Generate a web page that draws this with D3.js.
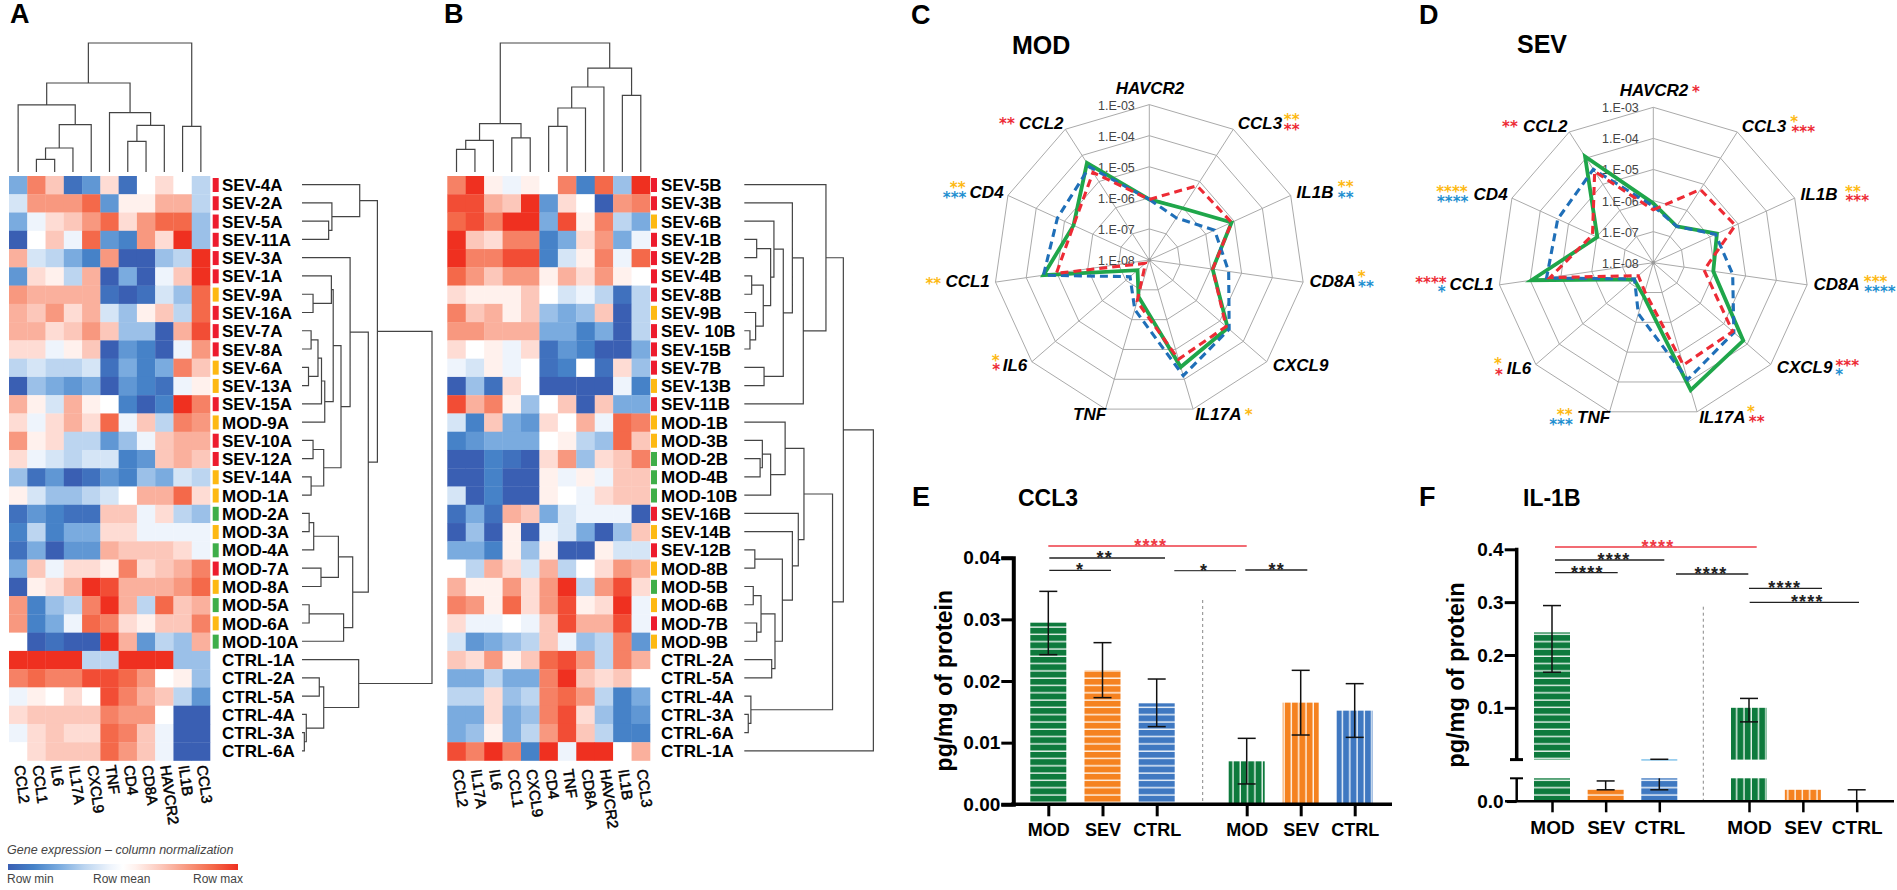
<!DOCTYPE html>
<html>
<head>
<meta charset="utf-8">
<script src="https://cdn.jsdelivr.net/npm/d3@7"></script>
<style>
  html, body { margin: 0; padding: 0; background: #fff; }
  svg { display: block; }
  text { font-family: "Liberation Sans", Arial, sans-serif; fill: #000; }
</style>
</head>
<body>
<div id="chart"></div>
<script>
// ---- heatmap data (-9 = row min, 0 = row mean, 9 = row max) ----
var colsA = ["CCL2","CCL1","IL6","IL17A","CXCL9","TNF","CD4","CD8A","HAVCR2","IL1B","CCL3"];
var rowsA = ["SEV-4A","SEV-2A","SEV-5A","SEV-11A","SEV-3A","SEV-1A","SEV-9A","SEV-16A","SEV-7A","SEV-8A","SEV-6A","SEV-13A","SEV-15A","MOD-9A","SEV-10A","SEV-12A","SEV-14A","MOD-1A","MOD-2A","MOD-3A","MOD-4A","MOD-7A","MOD-8A","MOD-5A","MOD-6A","MOD-10A","CTRL-1A","CTRL-2A","CTRL-5A","CTRL-4A","CTRL-3A","CTRL-6A"];
var groupA = ["r","r","r","r","r","r","y","r","r","r","y","y","r","y","r","r","y","y","g","y","g","r","y","g","y","g","","","","","",""];
var cellsA = [
  [-5,6,3,-8,-6,2,-8,0,2,0,-3],
  [-2,5,5,5,7,-6,1,1,4,4,-3],
  [-5,-1,2,3,5,7,2,5,7,7,-4],
  [-9,0,3,-1,7,-6,-7,5,2,9,-4],
  [4,-2,-3,-5,-7,5,-9,-9,-4,-3,9],
  [-6,2,1,-3,4,-9,-5,-9,-1,3,9],
  [5,4,4,4,4,-8,-9,-8,-2,-4,7],
  [4,3,5,2,4,-2,-4,1,3,-3,7],
  [4,4,2,3,5,3,-4,-4,-9,4,8],
  [2,2,-1,1,3,-9,-6,-7,-9,-1,5],
  [-3,-2,-3,-3,-2,-8,-5,-7,-5,6,3],
  [-9,-4,-5,-6,-5,-9,-6,-7,-8,-1,1],
  [4,1,-2,4,1,0,-7,-9,-7,9,6],
  [2,-1,2,4,2,7,-1,3,-3,6,5],
  [5,1,2,-3,-3,-6,-4,-1,3,4,4],
  [2,-1,-2,-3,-2,-2,-7,-6,3,4,3],
  [-4,-8,-6,-9,-8,-6,-7,-4,-5,-2,-3],
  [1,-2,-4,-4,-3,-2,0,4,4,7,2],
  [-8,-6,-7,-8,-8,3,3,-1,2,-3,-4],
  [-7,-3,-7,-5,-5,2,2,-1,-1,-1,-1],
  [-8,-5,-9,-6,-6,4,3,3,3,2,-1],
  [-5,3,-1,2,2,1,6,2,3,4,6],
  [-9,1,2,4,9,8,4,4,4,5,7],
  [5,-7,-4,-3,6,9,4,-3,7,3,4],
  [5,-7,-5,-1,7,6,2,1,3,3,6],
  [0,-9,-8,-9,-9,9,4,-6,-3,-4,4],
  [9,9,9,9,-3,-3,9,9,9,-4,-4],
  [6,7,6,6,8,8,7,5,0,1,-4],
  [-1,1,0,2,0,8,6,4,3,-3,-6],
  [2,3,3,3,3,6,5,5,0,-9,-9],
  [-1,2,3,2,2,7,6,3,-1,-9,-9],
  [0,2,3,3,3,7,5,3,-1,-9,-9]
];
var colsB = ["CCL2","IL17A","IL6","CCL1","CXCL9","CD4","TNF","CD8A","HAVCR2","IL1B","CCL3"];
var rowsB = ["SEV-5B","SEV-3B","SEV-6B","SEV-1B","SEV-2B","SEV-4B","SEV-8B","SEV-9B","SEV- 10B","SEV-15B","SEV-7B","SEV-13B","SEV-11B","MOD-1B","MOD-3B","MOD-2B","MOD-4B","MOD-10B","SEV-16B","SEV-14B","SEV-12B","MOD-8B","MOD-5B","MOD-6B","MOD-7B","MOD-9B","CTRL-2A","CTRL-5A","CTRL-4A","CTRL-3A","CTRL-6A","CTRL-1A"];
var groupB = ["r","r","y","r","r","r","r","y","r","r","r","y","r","y","y","g","g","g","r","y","r","y","g","y","r","y","","","","","",""];
var cellsB = [
  [6,9,1,-1,1,0,6,-7,7,-4,9],
  [8,8,4,3,9,-6,2,0,-9,5,6],
  [7,8,6,9,9,-5,8,1,6,-3,-5],
  [9,3,2,6,6,-7,-5,2,5,-5,-1],
  [9,6,6,8,8,-7,-2,1,6,-1,7],
  [7,5,3,5,5,1,4,2,5,1,0],
  [2,1,1,1,3,0,-2,-1,-3,-8,-3],
  [6,3,4,1,3,-4,-5,-4,3,-9,-3],
  [5,5,4,4,4,-5,-5,-7,-5,-9,-3],
  [2,0,1,-1,2,-8,-6,-7,-9,-9,-5],
  [-1,-2,1,-1,0,-8,-7,0,-8,2,-4],
  [-9,-4,-8,2,0,-9,-9,-9,-9,-1,-7],
  [8,4,6,1,-4,0,3,-9,3,-5,-5],
  [-2,-7,3,-5,-6,2,0,4,-1,7,6],
  [-7,-6,-5,-5,-5,0,1,-3,-4,7,3],
  [-9,-9,-7,-8,-9,2,5,-4,2,3,6],
  [-9,-9,-7,-9,-9,1,-1,1,-1,3,3],
  [-2,-9,-7,-9,-9,1,0,-1,2,3,3],
  [-8,-5,-8,4,3,-5,-2,-1,-1,-1,-9],
  [-9,-4,-9,1,-9,-1,-2,-5,-9,-4,3],
  [-5,-5,-7,1,-4,1,-9,-9,1,-2,-2],
  [0,-3,4,2,-2,4,-3,0,2,5,4],
  [4,1,1,5,2,5,9,-3,5,8,2],
  [6,5,1,7,2,5,8,1,2,9,-1],
  [2,-1,-1,0,-1,3,8,4,4,8,-1],
  [-2,-6,-5,-4,-3,3,-1,-4,-3,6,-6],
  [3,2,5,1,3,7,8,5,-3,6,4],
  [-5,-5,-3,-5,-5,6,9,3,2,3,0],
  [-3,-3,2,-4,-3,6,7,5,-3,-7,-5],
  [-5,-5,2,-5,-4,6,8,2,-4,-7,-6],
  [-5,-4,1,-5,-3,5,8,3,-3,-7,-7],
  [8,6,9,6,-7,9,-1,9,9,0,4]
];

// ---- dendrograms: [distance, child, child], leaves are names ----
var rowTreeA = [1,
  [.58,
    [.444, "SEV-4A", [.23, "SEV-2A", [.205, "SEV-5A", "SEV-11A"]]],
    [.51,
      [.37, "SEV-3A",
        [.30,
          [.24,
            [.226, "SEV-1A", [.085, "SEV-9A", "SEV-16A"]],
            [.175, [.15, [.123, [.07, "SEV-7A", "SEV-8A"], [.05, "SEV-6A", "SEV-13A"]], "SEV-15A"], "MOD-9A"]],
          [.167, [.085, "SEV-10A", "SEV-12A"], [.07, "SEV-14A", "MOD-1A"]]]],
      [.39,
        [.28, [.09, [.055, "MOD-2A", "MOD-3A"], "MOD-4A"], [.146, "MOD-7A", "MOD-8A"]],
        [.32, [.055, "MOD-5A", "MOD-6A"], "MOD-10A"]]]],
  [.436, "CTRL-1A",
    [.167, [.133, "CTRL-2A", "CTRL-5A"], [.033, "CTRL-4A", [.018, "CTRL-3A", "CTRL-6A"]]]]
];
var rowTreeB = [.98,
  [.752,
    [.62, "SEV-5B",
      [.448,
        [.365, "SEV-3B",
          [.296,
            [.225, "SEV-6B",
              [.2,
                [.094, "SEV-1B", "SEV-2B"],
                [.144, [.056, "SEV-4B", "SEV-8B"], [.086, "SEV-9B", [.043, "SEV- 10B", "SEV-15B"]]]]],
            [.15, "SEV-7B", "SEV-13B"]]],
        "SEV-11B"]],
    [.67,
      [.453,
        [.31, "MOD-1B", [.2, [.137, "MOD-3B", [.12, "MOD-2B", "MOD-4B"]], "MOD-10B"]],
        [.41, "SEV-16B",
          [.365, "SEV-14B",
            [.289,
              [.08, "SEV-12B", "MOD-8B"],
              [.233, [.127, [.068, "MOD-5B", "MOD-6B"], [.094, "MOD-7B", "MOD-9B"]], [.208, "CTRL-2A", "CTRL-5A"]]]]]],
      [.05, "CTRL-4A", [.03, "CTRL-3A", "CTRL-6A"]]]],
  "CTRL-1A"
];
var colTreeA = [1,
  [.69,
    [.52, "CCL2", [.367, [.186, [.098, "CCL1", "IL6"], "IL17A"], "CXCL9"]],
    [.46, "TNF", [.362, [.238, "CD4", "CD8A"], "HAVCR2"]]],
  [.354, "IL1B", "CCL3"]
];
var colTreeB = [1,
  [.375, [.245, [.176, "CCL2", "IL17A"], "IL6"], [.264, "CCL1", "CXCL9"]],
  [.806, [.659, [.496, [.354, "CD4", "TNF"], "CD8A"], "HAVCR2"], [.594, "IL1B", "CCL3"]]
];

// ---- radar data: log10 of the relative expression ----
var radarGenes = ["HAVCR2","CCL3","IL1B","CD8A","CXCL9","IL17A","TNF","IL6","CCL1","CD4","CCL2"];
var radarTicks = ["1.E-08","1.E-07","1.E-06","1.E-05","1.E-04","1.E-03"];
var modGreen = [-6.05,-6.02,-5.09,-5.94,-4.66,-4.41,-6.77,-7.50,-4.56,-5.32,-4.29];
var modRed   = [-6.05,-5.16,-5.09,-5.94,-4.73,-4.67,-6.61,-7.84,-4.98,-5.32,-4.65];
var modBlue  = [-6.05,-6.39,-5.69,-5.42,-4.60,-4.12,-6.34,-7.18,-4.56,-4.75,-4.44];
var sevGreen = [-6.09,-6.61,-5.75,-6.05,-4.17,-3.73,-6.89,-7.18,-4.04,-6.02,-3.94];
var sevRed   = [-6.30,-5.20,-5.10,-6.35,-4.62,-4.57,-7.03,-7.36,-4.64,-5.85,-4.51];
var sevBlue  = [-6.18,-6.61,-5.80,-5.42,-4.57,-4.08,-6.29,-7.20,-4.53,-4.62,-4.43];

// ---- bar data ----
var barGroups = ["MOD","SEV","CTRL"];
var ccl3Left     = [.02946,.02173,.01638];
var ccl3LeftHi   = [.03454,.02622,.02032];
var ccl3LeftLo   = [.02427,.0173,.0126];
var ccl3Right    = [.00697,.01649,.01519];
var ccl3RightHi  = [.0107,.02173,.01957];
var ccl3RightLo  = [.0033,.01124,.01086];
var il1bLeft     = [.2427,.001,.0023];
var il1bLeftHi   = [.2935,.00177,.0026];
var il1bLeftLo   = [.1673,.001,.001];
var il1bRight    = [.1,.001,0];
var il1bRightHi  = [.1178,.001,.001];
var il1bRightLo  = [.0734,.001,0];

var W = 1897, H = 890;
var svg = d3.select("#chart").append("svg").attr("width", W).attr("height", H);
svg.append("rect").attr("width", W).attr("height", H).attr("fill", "#fff");
var defs = svg.append("defs");

var groupColour = { r: "#ed1c2e", y: "#fdb913", g: "#3fae49" };
var heatStops = [-9,-7,-5,-3,-1,0,1,3,5,7,9];
var heatRange = ["#3a5fb3","#4682c8","#7aabdf","#bcd5f0","#eef4fc","#ffffff","#fff1ed","#fcc7ba","#f8987f","#f4694a","#ef3020"];
var heatColour = d3.scaleLinear().domain(heatStops).range(heatRange);

function label(x, y, txt, size, opts) {
  opts = opts || {};
  var t = svg.append("text").attr("x", x).attr("y", y).text(txt)
    .style("font-size", size + "px")
    .style("font-weight", opts.weight || "bold")
    .style("text-anchor", opts.anchor || "start");
  if (opts.italic) t.style("font-style", "italic");
  if (opts.fill) t.style("fill", opts.fill);
  if (opts.rotate != null) t.attr("transform", "rotate(" + opts.rotate + "," + x + "," + y + ")");
  return t;
}

// panel letters and titles
label(10, 23, "A", 27);
label(444, 23, "B", 27);
label(911, 24, "C", 27);
label(1419, 24, "D", 27);
label(912, 506, "E", 27);
label(1419, 506, "F", 27);
label(1012, 54, "MOD", 25);
label(1517, 53, "SEV", 25);
label(1018, 506, "CCL3", 23);
label(1523, 506, "IL-1B", 23);

// ---- heatmaps with their dendrograms ----
function treeLines(tree, pos, distance) {
  // pos(name) gives the place of a leaf along the ordered side, distance(h) across it
  var root = d3.hierarchy(tree, function(d) { return Array.isArray(d) ? d.slice(1) : null; });
  var path = d3.path();
  root.eachAfter(function(n) {
    if (!n.children) {
      n.p = pos(n.data);
      n.h = 0;
    } else {
      n.p = (n.children[0].p + n.children[1].p) / 2;
      n.h = n.data[0];
      var a = n.children[0], b = n.children[1];
      if (distance.horizontal) {
        path.moveTo(distance(a.h), a.p); path.lineTo(distance(n.h), a.p);
        path.lineTo(distance(n.h), b.p); path.lineTo(distance(b.h), b.p);
      } else {
        path.moveTo(a.p, distance(a.h)); path.lineTo(a.p, distance(n.h));
        path.lineTo(b.p, distance(n.h)); path.lineTo(b.p, distance(b.h));
      }
    }
  });
  svg.append("path").attr("d", path.toString()).attr("fill", "none")
    .attr("stroke", "#444").attr("stroke-width", 1.2);
}

function heatmap(cfg) {
  var x = d3.scaleBand().domain(cfg.cols).range([cfg.x0, cfg.x1]);
  var y = d3.scaleBand().domain(cfg.rows).range([176, 760.5]);
  var g = svg.append("g");
  cfg.cells.forEach(function(row, i) {
    g.selectAll(null).data(row).enter().append("rect")
      .attr("x", function(d, j) { return x(cfg.cols[j]); })
      .attr("y", y(cfg.rows[i]))
      .attr("width", x.bandwidth() + .3)
      .attr("height", y.bandwidth() + .3)
      .attr("fill", function(d) { return heatColour(d); });
  });
  // severity chips
  g.selectAll(null).data(cfg.rows).enter().append("rect")
    .attr("x", cfg.chipX).attr("width", 6)
    .attr("y", function(d) { return y(d) + 2; })
    .attr("height", 14)
    .attr("fill", function(d, i) { return groupColour[cfg.groups[i]] || "none"; });
  cfg.rows.forEach(function(r) {
    label(cfg.labelX, y(r) + y.bandwidth() / 2 + 6, r, 17);
  });
  cfg.cols.forEach(function(c) {
    label(x(c) + x.bandwidth() / 2 - 4, cfg.colLabelY, c, 15, { rotate: 82, weight: "normal" })
      .style("stroke", "#000").style("stroke-width", .5);
  });
  var across = d3.scaleLinear().domain([0, 1]).range([cfg.rowTreeX0, cfg.rowTreeX1]);
  across.horizontal = true;
  treeLines(cfg.rowTree, function(n) { return y(n) + y.bandwidth() / 2 - .5; }, across);
  var up = d3.scaleLinear().domain([0, 1]).range([172, 43]);
  treeLines(cfg.colTree, function(n) { return x(n) + x.bandwidth() / 2; }, up);
}

heatmap({ cols: colsA, rows: rowsA, groups: groupA, cells: cellsA, x0: 9, x1: 210, chipX: 212.7, labelX: 222,
  colLabelY: 766, rowTree: rowTreeA, colTree: colTreeA, rowTreeX0: 302, rowTreeX1: 432 });
heatmap({ cols: colsB, rows: rowsB, groups: groupB, cells: cellsB, x0: 447.3, x1: 650, chipX: 651, labelX: 661,
  colLabelY: 770, rowTree: rowTreeB, colTree: colTreeB, rowTreeX0: 744.3, rowTreeX1: 876 });

// gradient legend
var grad = defs.append("linearGradient").attr("id", "rowScale");
heatStops.forEach(function(s, i) {
  grad.append("stop").attr("offset", ((s + 9) / 18 * 100) + "%").attr("stop-color", heatRange[i]);
});
svg.append("rect").attr("x", 8).attr("y", 864).attr("width", 230).attr("height", 6).attr("fill", "url(#rowScale)");
label(7, 854, "Gene expression \u2013 column normalization", 12.5, { italic: true, weight: "normal", fill: "#444" });
label(7, 883, "Row min", 12, { weight: "normal", fill: "#444" });
label(93, 883, "Row mean", 12, { weight: "normal", fill: "#444" });
label(193, 883, "Row max", 12, { weight: "normal", fill: "#444" });

// ---- radar panels ----
var radarColour = { orange: "#fdb913", red: "#ed2b35", blue: "#1f8fd0" };
// label offsets from the centre, same on both panels
var radarLabelPos = [[.7,-166.3],[110.7,-131],[165.7,-62.3],[183.3,27.3],[151.3,110.7],[69,160],[-59.7,160],[-134.3,111],[-181.7,27.3],[-162.7,-62.3],[-108,-131]];

function stars(cx, cy, dx, dy, n, colour) {
  label(cx + dx / 3, cy + dy / 3 + 6.5, "*".repeat(n), 15, { anchor: "middle", fill: radarColour[colour] })
    .style("font-family", "DejaVu Sans");
}

function radar(cx, cy, green, red, blue, starList) {
  var r = d3.scaleLinear().domain([-8, -3]).range([0, 155.4]);
  var angle = d3.scalePoint().domain(radarGenes).range([0, 2 * Math.PI * 10 / 11]);
  var line = d3.lineRadial().curve(d3.curveLinearClosed)
    .angle(function(d, i) { return angle(radarGenes[i]); })
    .radius(function(d) { return r(d); });
  var g = svg.append("g").attr("transform", "translate(" + cx + "," + cy + ")");
  d3.range(-7, -2).forEach(function(level) {
    g.append("path").attr("d", line(radarGenes.map(function() { return level; })))
      .attr("fill", "none").attr("stroke", "#aaa").attr("stroke-width", 1);
  });
  radarGenes.forEach(function(gene) {
    var a = angle(gene) - Math.PI / 2;
    g.append("line").attr("x2", r(-3) * Math.cos(a)).attr("y2", r(-3) * Math.sin(a))
      .attr("stroke", "#aaa").attr("stroke-width", 1);
  });
  g.append("circle").attr("r", 2).attr("fill", "#999");
  radarTicks.forEach(function(t, i) {
    g.append("text").attr("x", -14.5).attr("y", -r(-8 + i) + 5).text(t)
      .style("font-size", "12.5px").style("text-anchor", "end").style("fill", "#444");
  });
  g.append("path").attr("d", line(green)).attr("fill", "none")
    .attr("stroke", "#1fa64a").attr("stroke-width", 3.8);
  g.append("path").attr("d", line(blue)).attr("fill", "none")
    .attr("stroke", "#1f6fb8").attr("stroke-width", 3.1).attr("stroke-dasharray", "8,5");
  g.append("path").attr("d", line(red)).attr("fill", "none")
    .attr("stroke", "#ed2b35").attr("stroke-width", 3.1).attr("stroke-dasharray", "8,5");
  radarGenes.forEach(function(gene, i) {
    label(cx + radarLabelPos[i][0], cy + radarLabelPos[i][1], gene, 17, { italic: true, anchor: "middle" });
  });
  starList.forEach(function(s) { stars(cx, cy, s[0], s[1], s[2], s[3]); });
}

radar(1149.3, 260, modGreen, modRed, modBlue, [
  [427,-426,2,"orange"],[427,-395,2,"red"],[589,-223,2,"orange"],[589,-192,2,"blue"],
  [637,45,1,"orange"],[650,77,2,"blue"],[298,460,1,"orange"],[-461,298,1,"orange"],[-459,325,1,"red"],
  [-648,66,2,"orange"],[-575,-220,2,"orange"],[-584,-190,3,"blue"],[-427,-414,2,"red"]
]);
radar(1653.3, 262.7, sevGreen, sevRed, sevBlue, [
  [128,-516,1,"red"],[423,-426,1,"orange"],[450,-398,3,"red"],[599,-218,2,"orange"],[612,-190,3,"red"],
  [667,54,3,"orange"],[680,82,4,"blue"],[582,304,3,"red"],[558,332,1,"blue"],[293,444,1,"orange"],[310,474,2,"red"],
  [-266,452,2,"orange"],[-277,482,3,"blue"],[-466,298,1,"orange"],[-463,332,1,"red"],
  [-667,55,4,"red"],[-635,84,1,"blue"],[-604,-218,4,"orange"],[-602,-188,4,"blue"],[-430,-412,2,"red"]
]);

// ---- bar panels ----
var barColour = { MOD: "#0e7a3d", SEV: "#f58220", CTRL: "#3f78c1" };
function stripes(id, colour, vertical) {
  var p = defs.append("pattern").attr("id", id).attr("patternUnits", "userSpaceOnUse")
    .attr("width", 7.3).attr("height", 7.3);
  p.append("rect").attr("width", 7.3).attr("height", 7.3).attr("fill", colour);
  if (vertical) p.append("rect").attr("x", 5.9).attr("width", 1.4).attr("height", 7.3).attr("fill", "#fff").attr("opacity", .9);
  else p.append("rect").attr("y", 5.9).attr("height", 1.4).attr("width", 7.3).attr("fill", "#fff").attr("opacity", .9);
}
barGroups.forEach(function(c) {
  stripes("h" + c, barColour[c], false);
  stripes("v" + c, barColour[c], true);
});

function sigBar(x1, x2, y, starX, n, colour) {
  svg.append("line").attr("x1", x1).attr("x2", x2).attr("y1", y).attr("y2", y)
    .attr("stroke", colour).attr("stroke-width", 1.3);
  label(starX, y + 6, "*".repeat(n), 18, { anchor: "middle", fill: colour === "#ee3a45" ? colour : "#222" })
    .style("letter-spacing", "1.2px");
}

function errorBars(g, x, hi, lo, yPieces, yAt) {
  barGroups.forEach(function(c, i) {
    if (hi[i] === lo[i]) return;
    yPieces(lo[i], hi[i]).forEach(function(seg) {
      g.append("line").attr("x1", x(c)).attr("x2", x(c)).attr("y1", seg[0]).attr("y2", seg[1])
        .attr("stroke", "#111").attr("stroke-width", 1.5);
    });
    [lo[i], hi[i]].forEach(function(v) {
      if (v > 0) g.append("line").attr("x1", x(c) - 9).attr("x2", x(c) + 9).attr("y1", yAt(v)).attr("y2", yAt(v))
        .attr("stroke", "#111").attr("stroke-width", 1.5);
    });
  });
}

// CCL3
(function() {
  var y = d3.scaleLinear().domain([0, .04]).range([804.3, 557.7]);
  var xL = d3.scalePoint().domain(barGroups).range([1048.3, 1156.7]);
  var xR = d3.scalePoint().domain(barGroups).range([1246.7, 1354.7]);
  var g = svg.append("g");
  function bars(x, vals, hi, lo, kind) {
    g.selectAll(null).data(vals).enter().append("rect")
      .attr("x", function(d, i) { return x(barGroups[i]) - 18; })
      .attr("width", 36)
      .attr("y", function(d) { return y(d); })
      .attr("height", function(d) { return y(0) - y(d); })
      .attr("fill", function(d, i) { return "url(#" + kind + barGroups[i] + ")"; });
    errorBars(g, x, hi, lo, function(a, b) { return [[y(a), y(b)]]; }, y);
  }
  bars(xL, ccl3Left, ccl3LeftHi, ccl3LeftLo, "h");
  bars(xR, ccl3Right, ccl3RightHi, ccl3RightLo, "v");
  svg.append("line").attr("x1", 1202.7).attr("x2", 1202.7).attr("y1", 600).attr("y2", 804)
    .attr("stroke", "#888").attr("stroke-dasharray", "3,3");

  var yAxis = d3.axisLeft(y).tickValues([0, .01, .02, .03, .04]).tickFormat(d3.format(".2f")).tickSize(12).tickPadding(1);
  var ya = svg.append("g").attr("transform", "translate(1013.3,0)").call(yAxis);
  ya.select(".domain").attr("stroke", "#000").attr("stroke-width", 4);
  ya.selectAll(".tick line").attr("stroke", "#000").attr("stroke-width", 3);
  ya.selectAll("text").style("font-size", "19px").style("font-weight", "bold");
  [[xL], [xR]].forEach(function(a) {
    var xa = svg.append("g").attr("transform", "translate(0,804.3)").call(d3.axisBottom(a[0]).tickSize(12).tickPadding(7));
    xa.select(".domain").remove();
    xa.selectAll(".tick line").attr("stroke", "#000").attr("stroke-width", 3);
    xa.selectAll("text").style("font-size", "18px").style("font-weight", "bold");
  });
  svg.append("line").attr("x1", 1011).attr("x2", 1392).attr("y1", 804.3).attr("y2", 804.3)
    .attr("stroke", "#000").attr("stroke-width", 3.5);
  label(951.7, 680.7, "pg/mg of protein", 23, { rotate: -90, anchor: "middle" });

  sigBar(1048.3, 1246.7, 546, 1150.7, 4, "#ee3a45");
  sigBar(1049.3, 1165, 558, 1104.7, 2, "#222");
  sigBar(1049.3, 1111, 570.3, 1080, 1, "#222");
  sigBar(1174.3, 1236, 570.7, 1204, 1, "#444");
  sigBar(1245.3, 1307.3, 570, 1276.7, 2, "#222");
})();

// IL-1B, broken axis
(function() {
  var breakAt = .002;
  var yHigh = d3.scaleLinear().domain([breakAt, .4]).range([759.6, 549.3]);
  var yLow = d3.scaleLinear().domain([0, breakAt]).range([801.3, 778.3]);
  var xL = d3.scalePoint().domain(barGroups).range([1552, 1659.3]);
  var xR = d3.scalePoint().domain(barGroups).range([1749, 1856.7]);
  function yAt(v) { return v >= breakAt ? yHigh(v) : yLow(v); }
  function pieces(a, b) {
    var out = [];
    if (a < breakAt) out.push([yLow(a), yLow(Math.min(b, breakAt))]);
    if (b > breakAt) out.push([yHigh(Math.max(a, breakAt)), yHigh(b)]);
    return out;
  }
  var g = svg.append("g");
  function bars(x, vals, hi, lo, kind) {
    vals.forEach(function(v, i) {
      var c = barGroups[i];
      if (v <= 0) return;
      var fill = "url(#" + kind + c + ")";
      g.append("rect").attr("x", x(c) - 18).attr("width", 36)
        .attr("y", yLow(Math.min(v, breakAt))).attr("height", yLow(0) - yLow(Math.min(v, breakAt))).attr("fill", fill);
      if (v > breakAt) g.append("rect").attr("x", x(c) - 18).attr("width", 36)
        .attr("y", yHigh(v)).attr("height", Math.max(yHigh(breakAt) - yHigh(v), 1)).attr("fill", c === "CTRL" ? "#4aa8e0" : fill);
    });
    errorBars(g, x, hi, lo, pieces, yAt);
  }
  bars(xL, il1bLeft, il1bLeftHi, il1bLeftLo, "h");
  bars(xR, il1bRight, il1bRightHi, il1bRightLo, "v");
  svg.append("line").attr("x1", 1703.3).attr("x2", 1703.3).attr("y1", 606.7).attr("y2", 801)
    .attr("stroke", "#888").attr("stroke-dasharray", "3,3");

  var ya = svg.append("g").attr("transform", "translate(1516.7,0)")
    .call(d3.axisLeft(yHigh).tickValues([.1, .2, .3, .4]).tickFormat(d3.format(".1f")).tickSize(12).tickPadding(1));
  ya.select(".domain").remove();
  ya.selectAll(".tick line").attr("stroke", "#000").attr("stroke-width", 3);
  ya.selectAll("text").style("font-size", "19px").style("font-weight", "bold");
  svg.append("line").attr("x1", 1516.7).attr("x2", 1516.7).attr("y1", yHigh(.4) - 1.5).attr("y2", yHigh(breakAt))
    .attr("stroke", "#000").attr("stroke-width", 3.5);
  svg.append("line").attr("x1", 1510).attr("x2", 1523).attr("y1", yHigh(breakAt)).attr("y2", yHigh(breakAt))
    .attr("stroke", "#000").attr("stroke-width", 3);
  svg.append("line").attr("x1", 1516.7).attr("x2", 1516.7).attr("y1", yLow(breakAt)).attr("y2", yLow(0))
    .attr("stroke", "#000").attr("stroke-width", 2.5);
  svg.append("line").attr("x1", 1510).attr("x2", 1523).attr("y1", yLow(breakAt)).attr("y2", yLow(breakAt))
    .attr("stroke", "#000").attr("stroke-width", 2);
  var ya0 = svg.append("g").attr("transform", "translate(1516.7,0)")
    .call(d3.axisLeft(yLow).tickValues([0]).tickFormat(d3.format(".1f")).tickSize(10).tickPadding(3));
  ya0.select(".domain").remove();
  ya0.selectAll(".tick line").attr("stroke", "#000").attr("stroke-width", 2.5);
  ya0.selectAll("text").style("font-size", "19px").style("font-weight", "bold");

  [xL, xR].forEach(function(a) {
    var xa = svg.append("g").attr("transform", "translate(0,801.3)").call(d3.axisBottom(a).tickSize(11).tickPadding(8));
    xa.select(".domain").remove();
    xa.selectAll(".tick line").attr("stroke", "#000").attr("stroke-width", 2.5);
    xa.selectAll("text").style("font-size", "19px").style("font-weight", "bold");
  });
  svg.append("line").attr("x1", 1505).attr("x2", 1894).attr("y1", 801.3).attr("y2", 801.3)
    .attr("stroke", "#000").attr("stroke-width", 2.5);
  label(1464, 675, "pg/mg of protein", 23.5, { rotate: -90, anchor: "middle" });

  sigBar(1555, 1756.7, 547, 1658, 4, "#ee3a45");
  sigBar(1555, 1664.3, 560, 1614, 4, "#222");
  sigBar(1555, 1617.7, 572.7, 1587.3, 4, "#222");
  sigBar(1676, 1748.3, 574, 1711, 4, "#222");
  sigBar(1749, 1822, 588.3, 1784.7, 4, "#222");
  sigBar(1749.7, 1859, 602.3, 1807.3, 4, "#222");
})();
</script>
</body>
</html>
